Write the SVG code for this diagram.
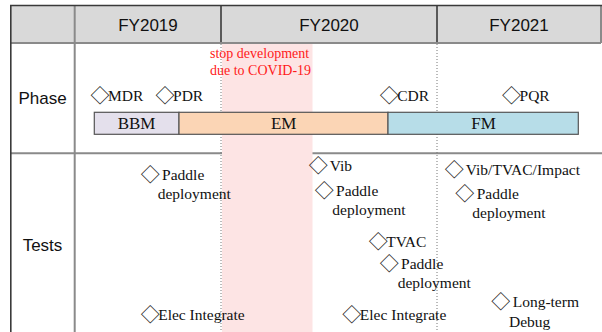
<svg xmlns="http://www.w3.org/2000/svg" width="602" height="332" viewBox="0 0 602 332">
  <style>
    .hdr { font-family: "Liberation Sans", Arial, sans-serif; font-size: 17px; fill: #111; text-anchor: middle; }
    .row { font-family: "Liberation Sans", Arial, sans-serif; font-size: 17px; fill: #111; text-anchor: middle; }
    .lbl { font-family: "Liberation Serif", "Times New Roman", serif; font-size: 15.5px; fill: #111; }
    .bar-t { font-family: "Liberation Serif", "Times New Roman", serif; font-size: 17px; fill: #111; text-anchor: middle; }
    .note { font-family: "Liberation Serif", "Times New Roman", serif; font-size: 14px; fill: #ff1a1a; }
    .dia { font-family: "Noto Sans CJK JP", "DejaVu Sans", sans-serif; font-size: 19px; letter-spacing: -1.5px; fill: #222; }
    .bar { stroke: #555; stroke-width: 1.2; }
    .grid { stroke: #8a8a8a; stroke-width: 2; fill: none; }
    .dark { stroke: #3a3a3a; stroke-width: 1.6; fill: none; }
    .dot { stroke: #777; stroke-width: 1; stroke-dasharray: 1 2; fill: none; }
  </style>

  <rect width="602" height="332" fill="#ffffff"/>

  <!-- table frame -->
  <g id="table">
    <rect x="10.5" y="5.5" width="591" height="37.5" fill="#d9d9d9"/>
    <line class="grid" x1="10" y1="43" x2="601" y2="43"/>
    <line class="grid" x1="10" y1="153.3" x2="602" y2="153.3"/>
    <line class="grid" x1="74.7" y1="5" x2="74.7" y2="332"/>
    <line class="grid" x1="601" y1="5" x2="601" y2="43"/>
    <line class="dark" x1="221" y1="5" x2="221" y2="42"/>
    <line class="dark" x1="437" y1="5" x2="437" y2="42"/>
    <line class="dark" x1="10" y1="5.5" x2="602" y2="5.5"/>
    <line class="dark" x1="10.8" y1="5" x2="10.8" y2="332"/>
    <line class="dot" x1="221" y1="44" x2="221" y2="332"/>
    <line class="dot" x1="437" y1="44" x2="437" y2="332"/>
  </g>

  <!-- development pause band -->
  <g id="covid-pause">
    <rect x="222" y="44" width="90.5" height="288" fill="#fde4e4"/>
    <text class="note" x="210" y="58">stop development</text>
    <text class="note" x="210" y="75">due to COVID-19</text>
  </g>

  <!-- column and row headings -->
  <g id="headings">
    <text class="hdr" x="148" y="31">FY2019</text>
    <text class="hdr" x="329" y="31">FY2020</text>
    <text class="hdr" x="519" y="31">FY2021</text>
    <text class="row" x="42.5" y="104.3">Phase</text>
    <text class="row" x="42.5" y="251">Tests</text>
  </g>

  <!-- model phases -->
  <g id="phase-bbm">
    <rect class="bar" x="94.3" y="112.3" width="84.7" height="22" fill="#e4e0ec"/>
    <text class="bar-t" x="136.6" y="128.6">BBM</text>
  </g>
  <g id="phase-em">
    <rect class="bar" x="179" y="112.3" width="209" height="22" fill="#fbd5b5"/>
    <text class="bar-t" x="283.7" y="128.6">EM</text>
  </g>
  <g id="phase-fm">
    <rect class="bar" x="388" y="112.3" width="190.3" height="22" fill="#b7dde8"/>
    <text class="bar-t" x="483.5" y="128.6">FM</text>
  </g>

  <!-- review milestones -->
  <g id="ms-mdr"><text class="lbl" x="90.5" y="101"><tspan class="dia" dy="2">◇</tspan><tspan dy="-2">MDR</tspan></text></g>
  <g id="ms-pdr"><text class="lbl" x="155.5" y="101"><tspan class="dia" dy="2">◇</tspan><tspan dy="-2">PDR</tspan></text></g>
  <g id="ms-cdr"><text class="lbl" x="379.7" y="101"><tspan class="dia" dy="2">◇</tspan><tspan dy="-2">CDR</tspan></text></g>
  <g id="ms-pqr"><text class="lbl" x="502" y="101"><tspan class="dia" dy="2">◇</tspan><tspan dy="-2">PQR</tspan></text></g>

  <!-- test events -->
  <g id="t-paddle-19">
    <text class="lbl" x="140.7" y="180"><tspan class="dia" dy="2">◇</tspan><tspan dy="-2"> Paddle</tspan></text>
    <text class="lbl" x="157.7" y="199.3">deployment</text>
  </g>
  <g id="t-elec-19">
    <text class="lbl" x="140.7" y="320"><tspan class="dia" dy="2">◇</tspan><tspan dy="-2">Elec Integrate</tspan></text>
  </g>
  <g id="t-vib-20">
    <text class="lbl" x="308.7" y="170.7"><tspan class="dia" dy="2">◇</tspan><tspan dy="-2"> Vib</tspan></text>
  </g>
  <g id="t-paddle-20a">
    <text class="lbl" x="314.7" y="195.7"><tspan class="dia" dy="2">◇</tspan><tspan dy="-2"> Paddle</tspan></text>
    <text class="lbl" x="332.3" y="215">deployment</text>
  </g>
  <g id="t-tvac-20">
    <text class="lbl" x="368.7" y="246.7"><tspan class="dia" dy="2">◇</tspan><tspan dy="-2">TVAC</tspan></text>
  </g>
  <g id="t-paddle-20b">
    <text class="lbl" x="379.7" y="269.3"><tspan class="dia" dy="2">◇</tspan><tspan dy="-2"> Paddle</tspan></text>
    <text class="lbl" x="397.7" y="288.3">deployment</text>
  </g>
  <g id="t-elec-20">
    <text class="lbl" x="342.3" y="320"><tspan class="dia" dy="2">◇</tspan><tspan dy="-2">Elec Integrate</tspan></text>
  </g>
  <g id="t-env-21">
    <text class="lbl" x="444.7" y="175"><tspan class="dia" dy="2">◇</tspan><tspan dy="-2"> Vib/TVAC/Impact</tspan></text>
  </g>
  <g id="t-paddle-21">
    <text class="lbl" x="455.3" y="199.3"><tspan class="dia" dy="2">◇</tspan><tspan dy="-2"> Paddle</tspan></text>
    <text class="lbl" x="472.3" y="218.3">deployment</text>
  </g>
  <g id="t-debug-21">
    <text class="lbl" x="491.3" y="307.3"><tspan class="dia" dy="2">◇</tspan><tspan dy="-2"> Long-term</tspan></text>
    <text class="lbl" x="509" y="326.7">Debug</text>
  </g>

  <!-- no connectors in this chart -->
  <g id="connectors"/>
</svg>
